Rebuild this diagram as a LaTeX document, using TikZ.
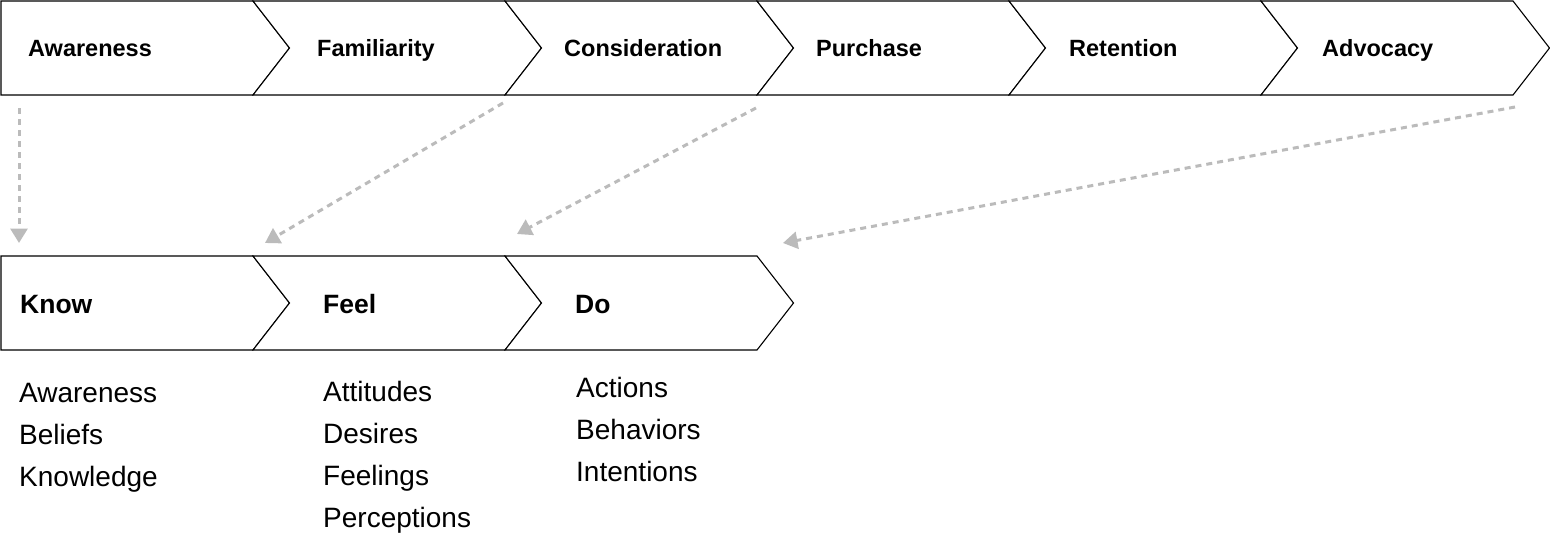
\documentclass[tikz,border=0pt]{standalone}
\usepackage{fontspec}
\setmainfont{Liberation Sans}
\usetikzlibrary{arrows.meta}
\definecolor{arrowgray}{HTML}{BBBBBB}
\tikzset{
  chev/.style={draw=black, line width=1.1pt, line join=miter, fill=white},
  toplabel/.style={anchor=base west, inner sep=0pt, font=\bfseries\fontsize{23.5}{26}\selectfont},
  botlabel/.style={anchor=base west, inner sep=0pt, font=\bfseries\fontsize{26.5}{30}\selectfont},
  listtext/.style={anchor=base west, inner sep=0pt, font=\fontsize{28}{42}\selectfont},
  flowarrow/.style={draw=arrowgray, line width=3pt, dash pattern=on 6pt off 5pt,
    -{Triangle[width=17pt,length=14.5pt,fill=arrowgray]}}
}
\begin{document}
\begin{tikzpicture}[x=1pt,y=-1pt]
\useasboundingbox (0,0) rectangle (1550,557);
% top row chevrons
\foreach \i in {0,...,5}{
  \pgfmathsetmacro{\L}{1+252*\i}
  \pgfmathsetmacro{\R}{\L+252}
  \ifnum\i=0
    \draw[chev] (\L,1) -- (\R,1) -- (\R+36.5,48) -- (\R,95) -- (\L,95) -- cycle;
  \else
    \draw[chev] (\L,1) -- (\R,1) -- (\R+36.5,48) -- (\R,95) -- (\L,95) -- (\L+36.5,48) -- cycle;
  \fi
}
% bottom row chevrons
\draw[chev] (1,256) -- (253,256) -- (289.5,303) -- (253,350) -- (1,350) -- cycle;
\draw[chev] (253,256) -- (505,256) -- (541.5,303) -- (505,350) -- (253,350) -- (289.5,303) -- cycle;
\draw[chev] (505,256) -- (757,256) -- (793.5,303) -- (757,350) -- (505,350) -- (541.5,303) -- cycle;
% top labels
\node[toplabel] (awareness) at (28,56.5) {Awareness};
\node[toplabel] (familiarity) at (317,56.5) {Familiarity};
\node[toplabel] (consideration) at (564,56.5) {Consideration};
\node[toplabel] (purchase) at (816,56.5) {Purchase};
\node[toplabel] (retention) at (1069,56.5) {Retention};
\node[toplabel] (advocacy) at (1322,56.5) {Advocacy};
% bottom labels
\node[botlabel] (know) at (20,313) {Know};
\node[botlabel] (feel) at (323,313) {Feel};
\node[botlabel] (do) at (575,313) {Do};
% lists
\node[listtext] (k1) at (19,402) {Awareness};
\node[listtext] (k2) at (19,444) {Beliefs};
\node[listtext] (k3) at (19,486) {Knowledge};
\node[listtext] (f1) at (323,401) {Attitudes};
\node[listtext] (f2) at (323,443) {Desires};
\node[listtext] (f3) at (323,485) {Feelings};
\node[listtext] (f4) at (323,527) {Perceptions};
\node[listtext] (d1) at (576,397) {Actions};
\node[listtext] (d2) at (576,439) {Behaviors};
\node[listtext] (d3) at (576,481) {Intentions};
% arrow endpoints
\coordinate (s1) at (19,108);   \coordinate (e1) at (19,243);
\coordinate (s2) at (503,103);  \coordinate (e2) at (265,243);
\coordinate (s3) at (756,108);  \coordinate (e3) at (517,234);
\coordinate (s4) at (1515,107); \coordinate (e4) at (783,243);
\draw[flowarrow] (s1) -- (e1);
\draw[flowarrow] (s2) -- (e2);
\draw[flowarrow] (s3) -- (e3);
\draw[flowarrow] (s4) -- (e4);
\end{tikzpicture}
\end{document}
